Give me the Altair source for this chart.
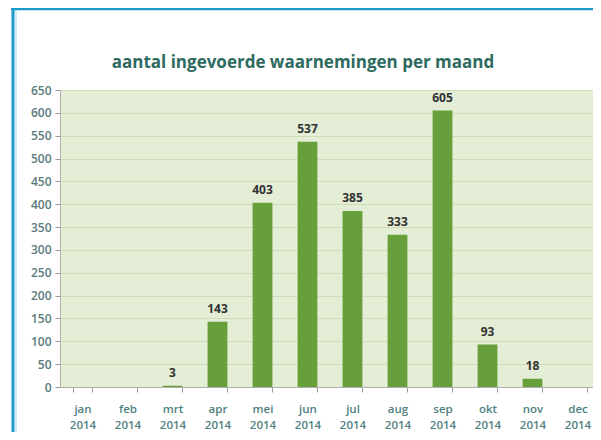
import altair as alt
import pandas as pd

months = ["jan", "feb", "mrt", "apr", "mei", "jun", "jul", "aug", "sep", "okt", "nov", "dec"]
counts = [0, 0, 3, 143, 403, 537, 385, 333, 605, 93, 18, 0]
year = "2014"
title_text = "aantal ingevoerde waarnemingen per maand"

df = pd.DataFrame({"maand": months, "aantal": counts})
df["label"] = df["aantal"].apply(lambda v: str(v) if v > 0 else "")
one = pd.DataFrame({"t": [title_text]})

W, H = 533, 297
FONT = "Open Sans"

x_enc = alt.X("maand:N", sort=months, title=None,
              scale=alt.Scale(range=[0, 540], paddingInner=0.56, paddingOuter=0.28),
              axis=alt.Axis(labelExpr=f"datum.label ? [datum.label, '{year}'] : ''",
                            labelAngle=0,
                            tickBand="extent", tickSize=5, tickColor="#9a9a9a",
                            domainColor="#b0b0b0", labelColor="#4f8080",
                            labelFont=FONT, labelFontSize=11.5, labelFontWeight=600,
                            labelPadding=11, labelLineHeight=16, labelOverlap=False,
                            grid=False))
y_enc = alt.Y("aantal:Q", title=None,
              scale=alt.Scale(domain=[0, 650], nice=False),
              axis=alt.Axis(values=list(range(0, 651, 50)), tickSize=5,
                            tickColor="#9a9a9a", domainColor="#b0b0b0",
                            labelColor="#5a7b7d", labelFont=FONT, labelFontSize=12,
                            labelFontWeight=600, labelPadding=4, labelOverlap=False,
                            gridColor="#cfdcb6", gridWidth=1))

base = alt.Chart(df).encode(x=x_enc, y=y_enc)
bars = base.mark_bar(color="#67a03a")
text = base.mark_text(dy=-13, font=FONT, fontSize=12, fontWeight="bold",
                      color="#333333").encode(text="label:N")

title = alt.Chart(one).mark_text(font=FONT, fontSize=17, fontWeight="bold",
                                 color="#2e6a60", align="center", baseline="middle").encode(
    x=alt.value(243), y=alt.value(-27), text="t:N")

frame_left = alt.Chart(one).mark_rule(color="#1a9ac9", strokeWidth=3).encode(
    x=alt.value(-47), y=alt.value(-82), y2=alt.value(H + 50))
frame_left2 = alt.Chart(one).mark_rule(color="#9fd3ea", strokeWidth=1).encode(
    x=alt.value(-44), y=alt.value(-81), y2=alt.value(H + 50))
frame_top = alt.Chart(one).mark_rule(color="#1a9ac9", strokeWidth=2.5).encode(
    y=alt.value(-81), x=alt.value(-49), x2=alt.value(W + 10))

chart = alt.layer(bars, text, title, frame_left, frame_left2, frame_top).properties(
    width=W, height=H,
    background="white",
    padding={"left": 52, "top": 82, "right": 0, "bottom": 45},
    autosize=alt.AutoSizeParams(type="none"),
).configure_view(fill="#e4edd6", stroke=None)

chart.save("out.html", embed_options={"renderer": "svg", "actions": False})
